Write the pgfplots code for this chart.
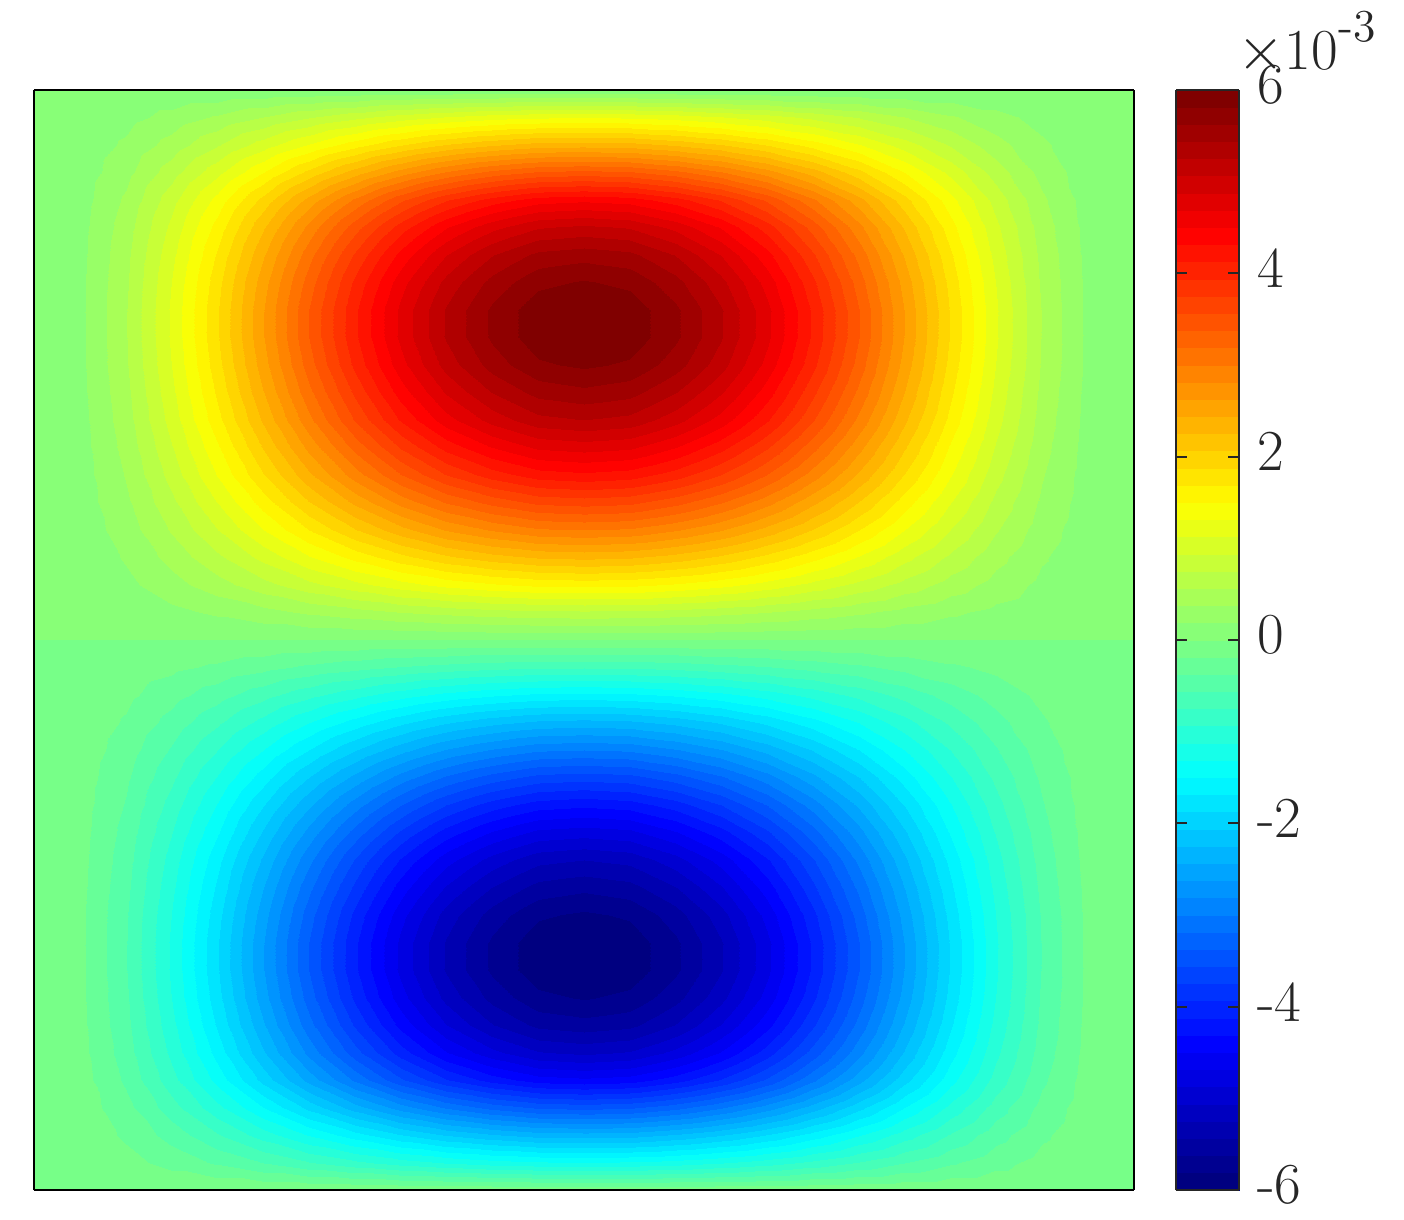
\documentclass[border=0pt]{standalone}
\usepackage{pgfplots}
\pgfplotsset{compat=1.18}
\definecolor{inkc}{HTML}{262626}
\pgfplotstableread{
i j z
0 0 -.01
1 0 -.01
2 0 -.01
3 0 -.01
4 0 -.01
5 0 -.01
6 0 -.01
7 0 -.01
8 0 -.01
9 0 -.01
10 0 -.01
11 0 -.01
12 0 -.01
13 0 -.01
14 0 -.01
15 0 -.01
16 0 -.01
17 0 -.01
18 0 -.01
19 0 -.01
20 0 -.01
21 0 -.01
22 0 -.01
23 0 -.01
24 0 -.01
0 1 -.01
1 1 -.03
2 1 -.12
3 1 -.25
4 1 -.40
5 1 -.56
6 1 -.73
7 1 -.88
8 1 -1.02
9 1 -1.13
10 1 -1.22
11 1 -1.27
12 1 -1.29
13 1 -1.27
14 1 -1.22
15 1 -1.13
16 1 -1.02
17 1 -.88
18 1 -.73
19 1 -.56
20 1 -.40
21 1 -.25
22 1 -.12
23 1 -.03
24 1 -.01
0 2 -.01
1 2 -.06
2 2 -.22
3 2 -.45
4 2 -.73
5 2 -1.03
6 2 -1.33
7 2 -1.61
8 2 -1.87
9 2 -2.08
10 2 -2.23
11 2 -2.34
12 2 -2.36
13 2 -2.34
14 2 -2.23
15 2 -2.08
16 2 -1.87
17 2 -1.61
18 2 -1.33
19 2 -1.03
20 2 -.73
21 2 -.45
22 2 -.22
23 2 -.06
24 2 -.01
0 3 -.01
1 3 -.08
2 3 -.31
3 3 -.66
4 3 -1.06
5 3 -1.49
6 3 -1.93
7 3 -2.34
8 3 -2.71
9 3 -3.01
10 3 -3.24
11 3 -3.39
12 3 -3.43
13 3 -3.39
14 3 -3.24
15 3 -3.01
16 3 -2.71
17 3 -2.34
18 3 -1.93
19 3 -1.49
20 3 -1.06
21 3 -.66
22 3 -.31
23 3 -.08
24 3 -.01
0 4 -.01
1 4 -.10
2 4 -.41
3 4 -.86
4 4 -1.38
5 4 -1.94
6 4 -2.51
7 4 -3.04
8 4 -3.53
9 4 -3.92
10 4 -4.21
11 4 -4.41
12 4 -4.46
13 4 -4.41
14 4 -4.21
15 4 -3.92
16 4 -3.53
17 4 -3.04
18 4 -2.51
19 4 -1.94
20 4 -1.38
21 4 -.86
22 4 -.41
23 4 -.10
24 4 -.01
0 5 -.01
1 5 -.12
2 5 -.47
3 5 -.98
4 5 -1.57
5 5 -2.22
6 5 -2.87
7 5 -3.48
8 5 -4.03
9 5 -4.48
10 5 -4.81
11 5 -5.04
12 5 -5.10
13 5 -5.04
14 5 -4.81
15 5 -4.48
16 5 -4.03
17 5 -3.48
18 5 -2.87
19 5 -2.22
20 5 -1.57
21 5 -.98
22 5 -.47
23 5 -.12
24 5 -.01
0 6 -.01
1 6 -.13
2 6 -.51
3 6 -1.06
4 6 -1.71
5 6 -2.41
6 6 -3.12
7 6 -3.78
8 6 -4.38
9 6 -4.87
10 6 -5.24
11 6 -5.49
12 6 -5.55
13 6 -5.49
14 6 -5.24
15 6 -4.87
16 6 -4.38
17 6 -3.78
18 6 -3.12
19 6 -2.41
20 6 -1.71
21 6 -1.06
22 6 -.51
23 6 -.13
24 6 -.01
0 7 -.01
1 7 -.14
2 7 -.53
3 7 -1.12
4 7 -1.80
5 7 -2.54
6 7 -3.28
7 7 -3.98
8 7 -4.61
9 7 -5.12
10 7 -5.50
11 7 -5.76
12 7 -5.83
13 7 -5.76
14 7 -5.50
15 7 -5.12
16 7 -4.61
17 7 -3.98
18 7 -3.28
19 7 -2.54
20 7 -1.80
21 7 -1.12
22 7 -.53
23 7 -.14
24 7 -.01
0 8 -.01
1 8 -.14
2 8 -.55
3 8 -1.15
4 8 -1.85
5 8 -2.61
6 8 -3.38
7 8 -4.09
8 8 -4.74
9 8 -5.27
10 8 -5.66
11 8 -5.93
12 8 -6.00
13 8 -5.93
14 8 -5.66
15 8 -5.27
16 8 -4.74
17 8 -4.09
18 8 -3.38
19 8 -2.61
20 8 -1.85
21 8 -1.15
22 8 -.55
23 8 -.14
24 8 -.01
0 9 -.01
1 9 -.14
2 9 -.55
3 9 -1.15
4 9 -1.85
5 9 -2.61
6 9 -3.38
7 9 -4.09
8 9 -4.74
9 9 -5.27
10 9 -5.66
11 9 -5.93
12 9 -6.00
13 9 -5.93
14 9 -5.66
15 9 -5.27
16 9 -4.74
17 9 -4.09
18 9 -3.38
19 9 -2.61
20 9 -1.85
21 9 -1.15
22 9 -.55
23 9 -.14
24 9 -.01
0 10 -.01
1 10 -.14
2 10 -.54
3 10 -1.12
4 10 -1.80
5 10 -2.54
6 10 -3.29
7 10 -3.99
8 10 -4.62
9 10 -5.14
10 10 -5.52
11 10 -5.78
12 10 -5.85
13 10 -5.78
14 10 -5.52
15 10 -5.14
16 10 -4.62
17 10 -3.99
18 10 -3.29
19 10 -2.54
20 10 -1.80
21 10 -1.12
22 10 -.54
23 10 -.14
24 10 -.01
0 11 -.01
1 11 -.13
2 11 -.51
3 11 -1.07
4 11 -1.72
5 11 -2.43
6 11 -3.14
7 11 -3.80
8 11 -4.41
9 11 -4.90
10 11 -5.26
11 11 -5.51
12 11 -5.58
13 11 -5.51
14 11 -5.26
15 11 -4.90
16 11 -4.41
17 11 -3.80
18 11 -3.14
19 11 -2.43
20 11 -1.72
21 11 -1.07
22 11 -.51
23 11 -.13
24 11 -.01
0 12 -.01
1 12 -.12
2 12 -.48
3 12 -1.01
4 12 -1.62
5 12 -2.28
6 12 -2.95
7 12 -3.58
8 12 -4.15
9 12 -4.61
10 12 -4.95
11 12 -5.19
12 12 -5.25
13 12 -5.19
14 12 -4.95
15 12 -4.61
16 12 -4.15
17 12 -3.58
18 12 -2.95
19 12 -2.28
20 12 -1.62
21 12 -1.01
22 12 -.48
23 12 -.12
24 12 -.01
0 13 -.01
1 13 -.11
2 13 -.44
3 13 -.92
4 13 -1.47
5 13 -2.08
6 13 -2.69
7 13 -3.26
8 13 -3.78
9 13 -4.20
10 13 -4.51
11 13 -4.73
12 13 -4.78
13 13 -4.73
14 13 -4.51
15 13 -4.20
16 13 -3.78
17 13 -3.26
18 13 -2.69
19 13 -2.08
20 13 -1.47
21 13 -.92
22 13 -.44
23 13 -.11
24 13 -.01
0 14 -.01
1 14 -.10
2 14 -.39
3 14 -.82
4 14 -1.32
5 14 -1.86
6 14 -2.40
7 14 -2.91
8 14 -3.37
9 14 -3.75
10 14 -4.03
11 14 -4.22
12 14 -4.27
13 14 -4.22
14 14 -4.03
15 14 -3.75
16 14 -3.37
17 14 -2.91
18 14 -2.40
19 14 -1.86
20 14 -1.32
21 14 -.82
22 14 -.39
23 14 -.10
24 14 -.01
0 15 -.01
1 15 -.09
2 15 -.34
3 15 -.70
4 15 -1.13
5 15 -1.59
6 15 -2.06
7 15 -2.49
8 15 -2.89
9 15 -3.21
10 15 -3.45
11 15 -3.62
12 15 -3.66
13 15 -3.62
14 15 -3.45
15 15 -3.21
16 15 -2.89
17 15 -2.49
18 15 -2.06
19 15 -1.59
20 15 -1.13
21 15 -.70
22 15 -.34
23 15 -.09
24 15 -.01
0 16 -.01
1 16 -.07
2 16 -.28
3 16 -.58
4 16 -.93
5 16 -1.31
6 16 -1.69
7 16 -2.05
8 16 -2.37
9 16 -2.64
10 16 -2.83
11 16 -2.97
12 16 -3.00
13 16 -2.97
14 16 -2.83
15 16 -2.64
16 16 -2.37
17 16 -2.05
18 16 -1.69
19 16 -1.31
20 16 -.93
21 16 -.58
22 16 -.28
23 16 -.07
24 16 -.01
0 17 -.01
1 17 -.05
2 17 -.21
3 17 -.44
4 17 -.71
5 17 -1.00
6 17 -1.30
7 17 -1.57
8 17 -1.82
9 17 -2.03
10 17 -2.18
11 17 -2.28
12 17 -2.31
13 17 -2.28
14 17 -2.18
15 17 -2.03
16 17 -1.82
17 17 -1.57
18 17 -1.30
19 17 -1.00
20 17 -.71
21 17 -.44
22 17 -.21
23 17 -.05
24 17 -.01
0 18 -.01
1 18 -.04
2 18 -.14
3 18 -.30
4 18 -.48
5 18 -.68
6 18 -.88
7 18 -1.06
8 18 -1.23
9 18 -1.37
10 18 -1.47
11 18 -1.54
12 18 -1.56
13 18 -1.54
14 18 -1.47
15 18 -1.37
16 18 -1.23
17 18 -1.06
18 18 -.88
19 18 -.68
20 18 -.48
21 18 -.30
22 18 -.14
23 18 -.04
24 18 -.01
0 19 -.01
1 19 -.02
2 19 -.07
3 19 -.14
4 19 -.22
5 19 -.31
6 19 -.41
7 19 -.49
8 19 -.57
9 19 -.63
10 19 -.68
11 19 -.71
12 19 -.72
13 19 -.71
14 19 -.68
15 19 -.63
16 19 -.57
17 19 -.49
18 19 -.41
19 19 -.31
20 19 -.22
21 19 -.14
22 19 -.07
23 19 -.02
24 19 -.01
0 20 0
1 20 0
2 20 0
3 20 0
4 20 0
5 20 0
6 20 0
7 20 0
8 20 0
9 20 0
10 20 0
11 20 0
12 20 0
13 20 0
14 20 0
15 20 0
16 20 0
17 20 0
18 20 0
19 20 0
20 20 0
21 20 0
22 20 0
23 20 0
24 20 0
0 21 .01
1 21 .02
2 21 .07
3 21 .14
4 21 .22
5 21 .31
6 21 .41
7 21 .49
8 21 .57
9 21 .63
10 21 .68
11 21 .71
12 21 .72
13 21 .71
14 21 .68
15 21 .63
16 21 .57
17 21 .49
18 21 .41
19 21 .31
20 21 .22
21 21 .14
22 21 .07
23 21 .02
24 21 .01
0 22 .01
1 22 .04
2 22 .14
3 22 .30
4 22 .48
5 22 .68
6 22 .88
7 22 1.06
8 22 1.23
9 22 1.37
10 22 1.47
11 22 1.54
12 22 1.56
13 22 1.54
14 22 1.47
15 22 1.37
16 22 1.23
17 22 1.06
18 22 .88
19 22 .68
20 22 .48
21 22 .30
22 22 .14
23 22 .04
24 22 .01
0 23 .01
1 23 .05
2 23 .21
3 23 .44
4 23 .71
5 23 1.00
6 23 1.30
7 23 1.57
8 23 1.82
9 23 2.03
10 23 2.18
11 23 2.28
12 23 2.31
13 23 2.28
14 23 2.18
15 23 2.03
16 23 1.82
17 23 1.57
18 23 1.30
19 23 1.00
20 23 .71
21 23 .44
22 23 .21
23 23 .05
24 23 .01
0 24 .01
1 24 .07
2 24 .28
3 24 .58
4 24 .93
5 24 1.31
6 24 1.69
7 24 2.05
8 24 2.37
9 24 2.64
10 24 2.83
11 24 2.97
12 24 3.00
13 24 2.97
14 24 2.83
15 24 2.64
16 24 2.37
17 24 2.05
18 24 1.69
19 24 1.31
20 24 .93
21 24 .58
22 24 .28
23 24 .07
24 24 .01
0 25 .01
1 25 .09
2 25 .34
3 25 .70
4 25 1.13
5 25 1.59
6 25 2.06
7 25 2.49
8 25 2.89
9 25 3.21
10 25 3.45
11 25 3.62
12 25 3.66
13 25 3.62
14 25 3.45
15 25 3.21
16 25 2.89
17 25 2.49
18 25 2.06
19 25 1.59
20 25 1.13
21 25 .70
22 25 .34
23 25 .09
24 25 .01
0 26 .01
1 26 .10
2 26 .39
3 26 .82
4 26 1.32
5 26 1.86
6 26 2.40
7 26 2.91
8 26 3.37
9 26 3.75
10 26 4.03
11 26 4.22
12 26 4.27
13 26 4.22
14 26 4.03
15 26 3.75
16 26 3.37
17 26 2.91
18 26 2.40
19 26 1.86
20 26 1.32
21 26 .82
22 26 .39
23 26 .10
24 26 .01
0 27 .01
1 27 .11
2 27 .44
3 27 .92
4 27 1.47
5 27 2.08
6 27 2.69
7 27 3.26
8 27 3.78
9 27 4.20
10 27 4.51
11 27 4.73
12 27 4.78
13 27 4.73
14 27 4.51
15 27 4.20
16 27 3.78
17 27 3.26
18 27 2.69
19 27 2.08
20 27 1.47
21 27 .92
22 27 .44
23 27 .11
24 27 .01
0 28 .01
1 28 .12
2 28 .48
3 28 1.01
4 28 1.62
5 28 2.28
6 28 2.95
7 28 3.58
8 28 4.15
9 28 4.61
10 28 4.95
11 28 5.19
12 28 5.25
13 28 5.19
14 28 4.95
15 28 4.61
16 28 4.15
17 28 3.58
18 28 2.95
19 28 2.28
20 28 1.62
21 28 1.01
22 28 .48
23 28 .12
24 28 .01
0 29 .01
1 29 .13
2 29 .51
3 29 1.07
4 29 1.72
5 29 2.43
6 29 3.14
7 29 3.80
8 29 4.41
9 29 4.90
10 29 5.26
11 29 5.51
12 29 5.58
13 29 5.51
14 29 5.26
15 29 4.90
16 29 4.41
17 29 3.80
18 29 3.14
19 29 2.43
20 29 1.72
21 29 1.07
22 29 .51
23 29 .13
24 29 .01
0 30 .01
1 30 .14
2 30 .54
3 30 1.12
4 30 1.80
5 30 2.54
6 30 3.29
7 30 3.99
8 30 4.62
9 30 5.14
10 30 5.52
11 30 5.78
12 30 5.85
13 30 5.78
14 30 5.52
15 30 5.14
16 30 4.62
17 30 3.99
18 30 3.29
19 30 2.54
20 30 1.80
21 30 1.12
22 30 .54
23 30 .14
24 30 .01
0 31 .01
1 31 .14
2 31 .55
3 31 1.15
4 31 1.85
5 31 2.61
6 31 3.38
7 31 4.09
8 31 4.74
9 31 5.27
10 31 5.66
11 31 5.93
12 31 6.00
13 31 5.93
14 31 5.66
15 31 5.27
16 31 4.74
17 31 4.09
18 31 3.38
19 31 2.61
20 31 1.85
21 31 1.15
22 31 .55
23 31 .14
24 31 .01
0 32 .01
1 32 .14
2 32 .55
3 32 1.15
4 32 1.85
5 32 2.61
6 32 3.38
7 32 4.09
8 32 4.74
9 32 5.27
10 32 5.66
11 32 5.93
12 32 6.00
13 32 5.93
14 32 5.66
15 32 5.27
16 32 4.74
17 32 4.09
18 32 3.38
19 32 2.61
20 32 1.85
21 32 1.15
22 32 .55
23 32 .14
24 32 .01
0 33 .01
1 33 .14
2 33 .53
3 33 1.12
4 33 1.80
5 33 2.54
6 33 3.28
7 33 3.98
8 33 4.61
9 33 5.12
10 33 5.50
11 33 5.76
12 33 5.83
13 33 5.76
14 33 5.50
15 33 5.12
16 33 4.61
17 33 3.98
18 33 3.28
19 33 2.54
20 33 1.80
21 33 1.12
22 33 .53
23 33 .14
24 33 .01
0 34 .01
1 34 .13
2 34 .51
3 34 1.06
4 34 1.71
5 34 2.41
6 34 3.12
7 34 3.78
8 34 4.38
9 34 4.87
10 34 5.24
11 34 5.49
12 34 5.55
13 34 5.49
14 34 5.24
15 34 4.87
16 34 4.38
17 34 3.78
18 34 3.12
19 34 2.41
20 34 1.71
21 34 1.06
22 34 .51
23 34 .13
24 34 .01
0 35 .01
1 35 .12
2 35 .47
3 35 .98
4 35 1.57
5 35 2.22
6 35 2.87
7 35 3.48
8 35 4.03
9 35 4.48
10 35 4.81
11 35 5.04
12 35 5.10
13 35 5.04
14 35 4.81
15 35 4.48
16 35 4.03
17 35 3.48
18 35 2.87
19 35 2.22
20 35 1.57
21 35 .98
22 35 .47
23 35 .12
24 35 .01
0 36 .01
1 36 .10
2 36 .41
3 36 .86
4 36 1.38
5 36 1.94
6 36 2.51
7 36 3.04
8 36 3.53
9 36 3.92
10 36 4.21
11 36 4.41
12 36 4.46
13 36 4.41
14 36 4.21
15 36 3.92
16 36 3.53
17 36 3.04
18 36 2.51
19 36 1.94
20 36 1.38
21 36 .86
22 36 .41
23 36 .10
24 36 .01
0 37 .01
1 37 .08
2 37 .31
3 37 .66
4 37 1.06
5 37 1.49
6 37 1.93
7 37 2.34
8 37 2.71
9 37 3.01
10 37 3.24
11 37 3.39
12 37 3.43
13 37 3.39
14 37 3.24
15 37 3.01
16 37 2.71
17 37 2.34
18 37 1.93
19 37 1.49
20 37 1.06
21 37 .66
22 37 .31
23 37 .08
24 37 .01
0 38 .01
1 38 .06
2 38 .22
3 38 .45
4 38 .73
5 38 1.03
6 38 1.33
7 38 1.61
8 38 1.87
9 38 2.08
10 38 2.23
11 38 2.34
12 38 2.36
13 38 2.34
14 38 2.23
15 38 2.08
16 38 1.87
17 38 1.61
18 38 1.33
19 38 1.03
20 38 .73
21 38 .45
22 38 .22
23 38 .06
24 38 .01
0 39 .01
1 39 .03
2 39 .12
3 39 .25
4 39 .40
5 39 .56
6 39 .73
7 39 .88
8 39 1.02
9 39 1.13
10 39 1.22
11 39 1.27
12 39 1.29
13 39 1.27
14 39 1.22
15 39 1.13
16 39 1.02
17 39 .88
18 39 .73
19 39 .56
20 39 .40
21 39 .25
22 39 .12
23 39 .03
24 39 .01
0 40 .01
1 40 .01
2 40 .01
3 40 .01
4 40 .01
5 40 .01
6 40 .01
7 40 .01
8 40 .01
9 40 .01
10 40 .01
11 40 .01
12 40 .01
13 40 .01
14 40 .01
15 40 .01
16 40 .01
17 40 .01
18 40 .01
19 40 .01
20 40 .01
21 40 .01
22 40 .01
23 40 .01
24 40 .01
}\fieldtable
\begin{document}
\begin{tikzpicture}
\fontsize{16.5}{18}\selectfont
\path[use as bounding box] (-0.34,-0.29) rectangle (13.70,11.90);
\begin{axis}[
  at={(0,0)}, anchor=south west,
  width=11cm, height=11cm, scale only axis,
  view={0}{90},
  xmin=0, xmax=24, ymin=0, ymax=40,
  xtick=\empty, ytick=\empty,
  colormap/jet, point meta min=-6, point meta max=6,
  axis on top, axis line style={line width=0.7pt, black},
]
\addplot3[contour filled={number=64}, mesh/rows=41, mesh/cols=25]
  table[x=i, y=j, z=z] {\fieldtable};
\end{axis}
\begin{axis}[
  at={(11.42cm,0)}, anchor=south west,
  width=0.63cm, height=11cm, scale only axis,
  view={0}{90},
  xmin=0, xmax=1, ymin=-6, ymax=6,
  xtick=\empty,
  ytick={-6,-4,-2,0,2,4,6},
  yticklabels={-6,-4,-2,0,2,4,6},
  yticklabel pos=right,
  tick align=inside, major tick length=0.11cm,
  tick style={inkc, line width=0.5pt},
  every tick label/.append style={font=\fontsize{16.5}{18}\selectfont, text=inkc, yshift=0.05cm, xshift=-0.02cm},
  colormap/jet, point meta min=-6, point meta max=6,
  axis on top, axis line style={line width=0.8pt, inkc},
]
\addplot3[contour filled={number=64}, mesh/rows=2, mesh/cols=2] table {
x y z
0 -6 -6
1 -6 -6
0 6 6
1 6 6
};
\end{axis}
\node[anchor=base west, inner sep=0pt, text=inkc] at (12.03,11.20)
  {$\times$10\raisebox{0.28cm}{\fontsize{13}{15}\selectfont -3}};
\end{tikzpicture}
\end{document}
